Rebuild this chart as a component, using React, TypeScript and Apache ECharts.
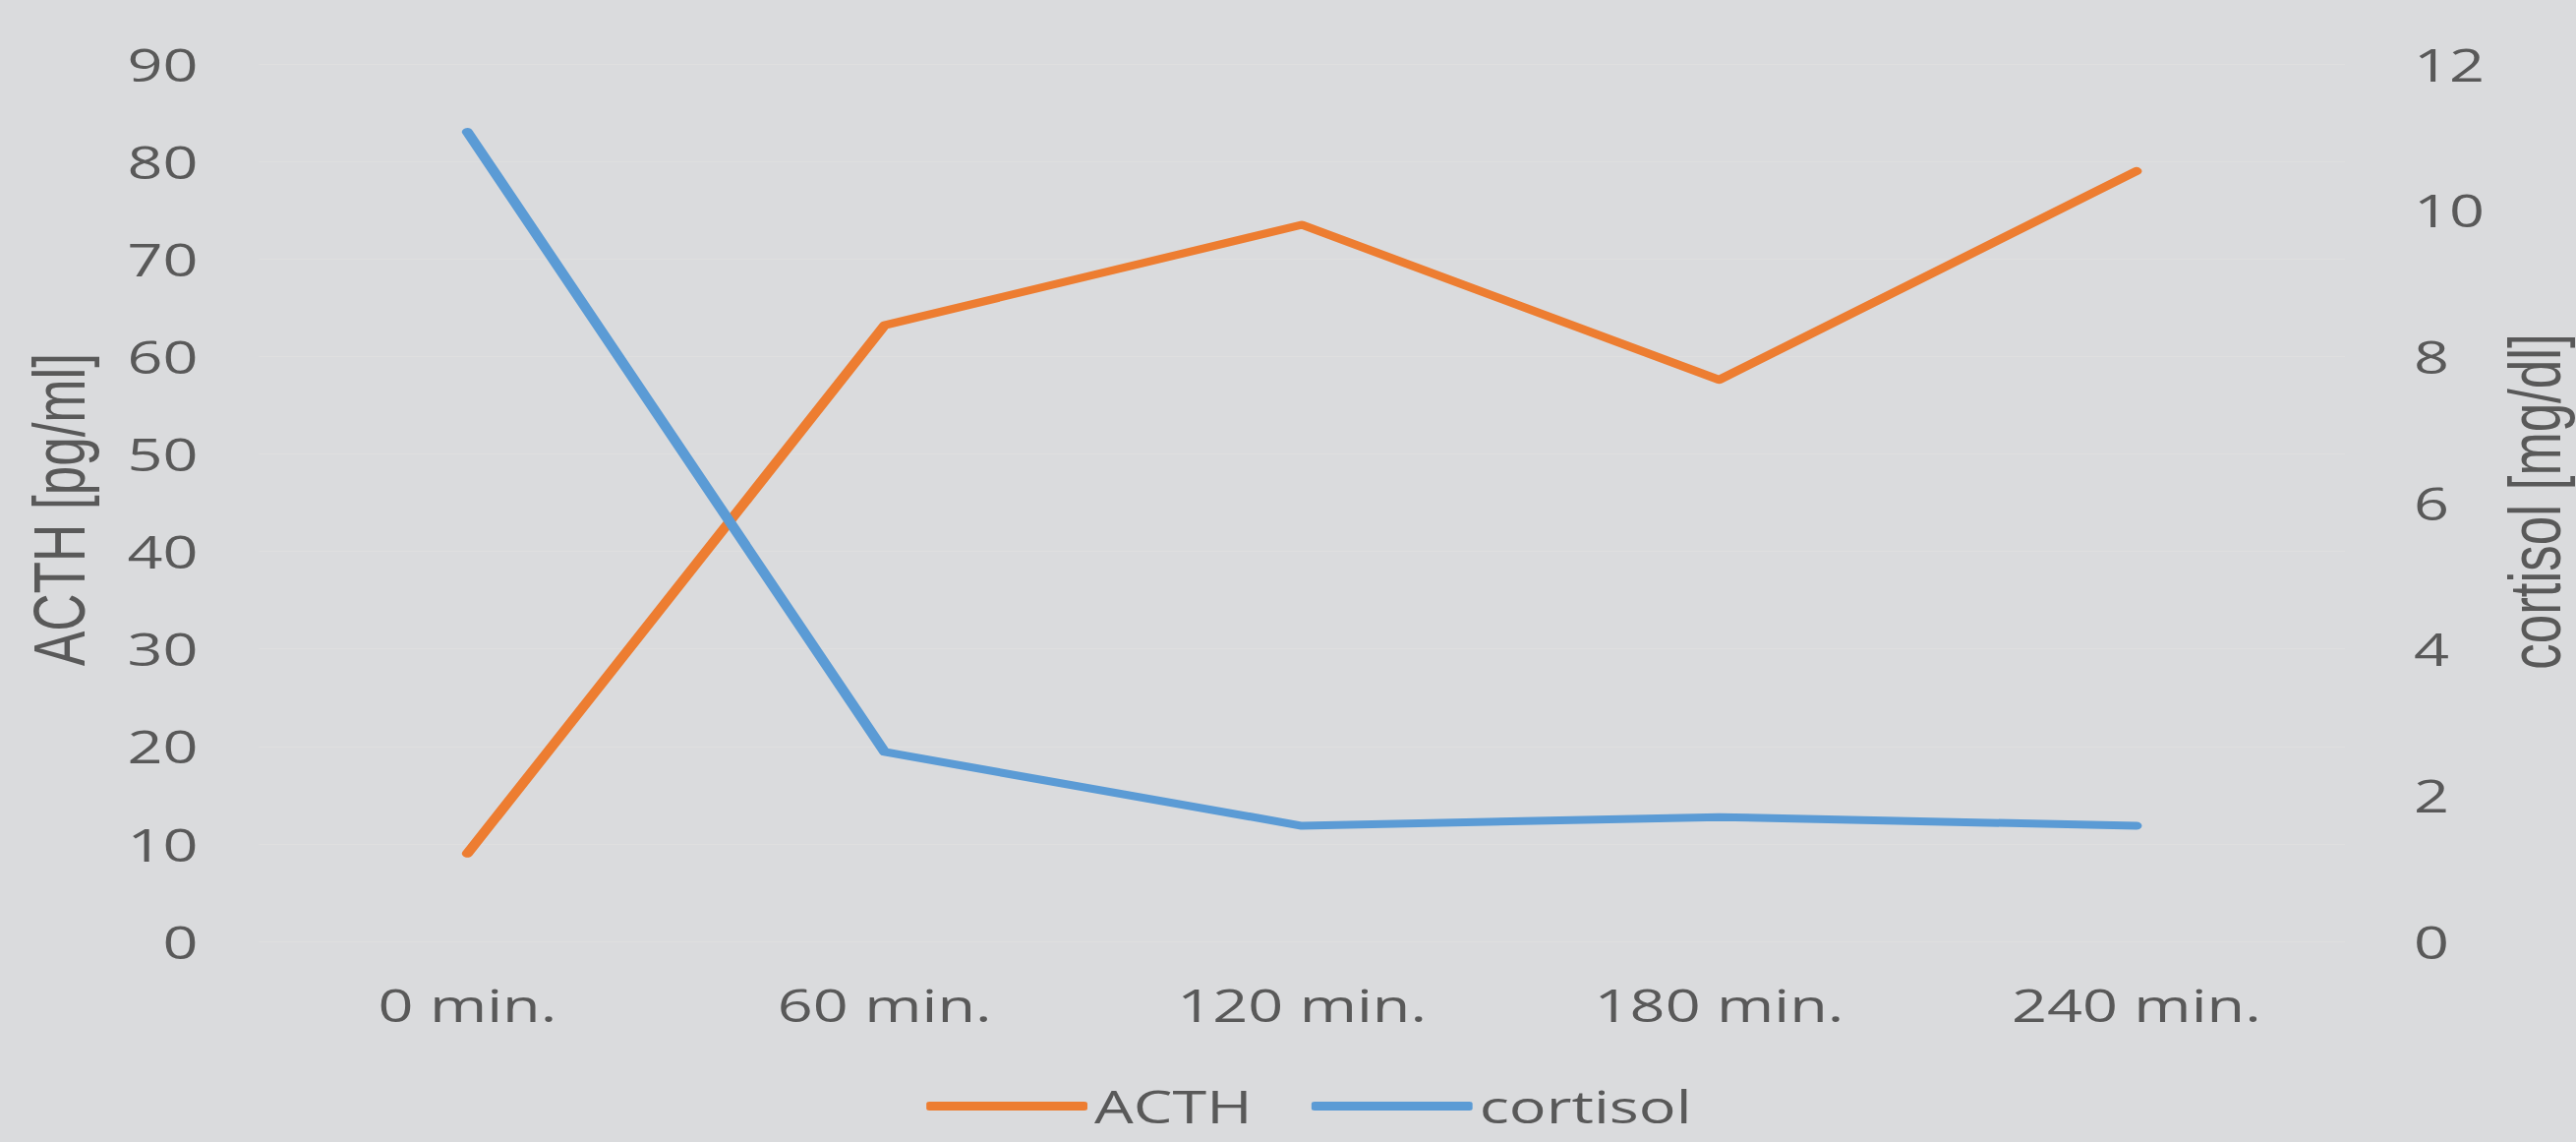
import React, { useEffect, useRef } from 'react';
import * as echarts from 'echarts';

const categories = ['0 min.', '60 min.', '120 min.', '180 min.', '240 min.'];
const acthValues = [9.0, 63.2, 73.5, 57.6, 79.0];
const cortisolValues = [11.07, 2.59, 1.58, 1.7, 1.58];
const seriesNames = ['ACTH', 'cortisol'];
const axisTitles = ['ACTH [pg/ml]', 'cortisol [mg/dl]'];

const W = 2620;
const H = 1161;
const S = 1.4; // horizontal stretch of the reference
const IW = W / S;
const BG = '#DADBDD';
const TEXT = '#595959';
const ORANGE = '#ED7D31';
const BLUE = '#5B9BD5';
const FONT = '"Open Sans", "Noto Sans", sans-serif';
const TITLE_FONT = '"Liberation Sans", Arial, sans-serif';

export default function App() {
  const ref = useRef<HTMLDivElement>(null);
  useEffect(() => {
    if (!ref.current) return;
    const chart = echarts.init(ref.current, null, { renderer: 'svg', width: IW, height: H });
    chart.setOption({
      animation: false,
      backgroundColor: BG,
      grid: { left: 188, right: IW - 1703.6, top: 65, bottom: H - 957 },
      legend: {
        data: seriesNames.map((n) => ({ name: n, icon: 'roundRect' })),
        left: 668,
        top: 1097,
        itemWidth: 117,
        itemHeight: 9,
        itemGap: 43,
        textStyle: { color: TEXT, fontSize: 45, lineHeight: 44, fontFamily: FONT },
      },
      xAxis: {
        type: 'category',
        data: categories,
        boundaryGap: true,
        axisLine: { show: false },
        axisTick: { show: false },
        axisLabel: { color: TEXT, fontSize: 45, fontFamily: FONT, margin: 42 },
      },
      yAxis: [
        {
          type: 'value',
          min: 0,
          max: 90,
          interval: 10,
          axisLine: { show: false },
          axisTick: { show: false },
          axisLabel: { color: TEXT, fontSize: 45, fontFamily: FONT, margin: 44 },
          splitLine: { show: true, lineStyle: { color: '#DFDFDF', width: 1 } },
        },
        {
          type: 'value',
          min: 0,
          max: 12,
          interval: 2,
          position: 'right',
          axisLine: { show: false },
          axisTick: { show: false },
          axisLabel: { color: TEXT, fontSize: 45, fontFamily: FONT, margin: 50 },
          splitLine: { show: false },
        },
      ],
      series: [
        {
          name: seriesNames[0],
          type: 'line',
          data: acthValues,
          yAxisIndex: 0,
          symbol: 'none',
          showSymbol: false,
          lineStyle: { color: ORANGE, width: 8, cap: 'round', join: 'round' },
          itemStyle: { color: ORANGE },
        },
        {
          name: seriesNames[1],
          type: 'line',
          data: cortisolValues,
          yAxisIndex: 1,
          symbol: 'none',
          showSymbol: false,
          lineStyle: { color: BLUE, width: 8, cap: 'round', join: 'round' },
          itemStyle: { color: BLUE },
        },
      ],
      graphic: [
        {
          type: 'text',
          x: 43,
          y: 518,
          rotation: Math.PI / 2,
          style: {
            text: axisTitles[0],
            fill: TEXT,
            font: `53px ${TITLE_FONT}`,
            lineHeight: 52,
            align: 'center',
            verticalAlign: 'middle',
          },
        },
        {
          type: 'text',
          x: 1842,
          y: 510,
          rotation: Math.PI / 2,
          style: {
            text: axisTitles[1],
            fill: TEXT,
            font: `53px ${TITLE_FONT}`,
            lineHeight: 52,
            align: 'center',
            verticalAlign: 'middle',
          },
        },
      ],
    });
    return () => chart.dispose();
  }, []);
  return (
    <div
      style={{
        position: 'fixed',
        left: 0,
        top: 0,
        width: W,
        height: H,
        background: BG,
        overflow: 'hidden',
      }}
    >
      <div
        ref={ref}
        style={{ width: IW, height: H, transform: `scaleX(${S})`, transformOrigin: '0 0' }}
      />
    </div>
  );
}
